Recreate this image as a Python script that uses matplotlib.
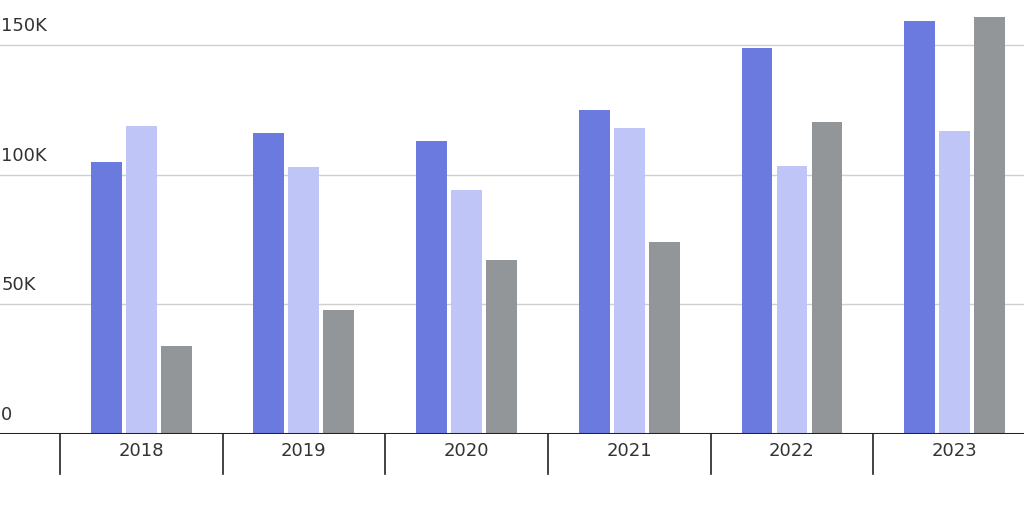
import numpy as np
import matplotlib.pyplot as plt

years = ['2018', '2019', '2020', '2021', '2022', '2023']
series_a = [105, 116, 113, 125, 149, 159.5]
series_b = [119, 103, 94, 118, 103.5, 117]
series_c = [34, 48, 67, 74, 120.5, 161]
colors = ['#6a7ade', '#bfc5f7', '#939699']

fig = plt.figure(figsize=(10.24, 5.12), dpi=100)
ax = fig.add_axes([0, 78 / 512, 1, 434 / 512])

x = np.arange(len(years))
w = 0.19
for off, vals, c in zip([-0.215, 0, 0.215], [series_a, series_b, series_c], colors):
    ax.bar(x + off, vals, width=w, color=c, zorder=2)

ax.set_xlim(-0.868, 5.426)
ax.set_ylim(0, 167.5)
for v in [50, 100, 150]:
    ax.axhline(v, color='#d0d0d0', lw=1, zorder=1)
for v, lab in zip([0, 50, 100, 150], ['0', '50K', '100K', '150K']):
    ax.text(-0.86, v + 4, lab, fontsize=13, color='#333333', va='bottom', ha='left')
ax.axhline(0, color='#222222', lw=2.2, zorder=3)

for s in ax.spines.values():
    s.set_visible(False)
ax.set_xticks([])
ax.set_yticks([])

# group separators and labels below the baseline
for i in range(len(years)):
    ax.plot([i - 0.5, i - 0.5], [0, -15.5], color='#222222', lw=1.2, clip_on=False)
    ax.text(i, -6.5, years[i], fontsize=13, color='#333333', ha='center', va='center')

fig.savefig('out.png')
